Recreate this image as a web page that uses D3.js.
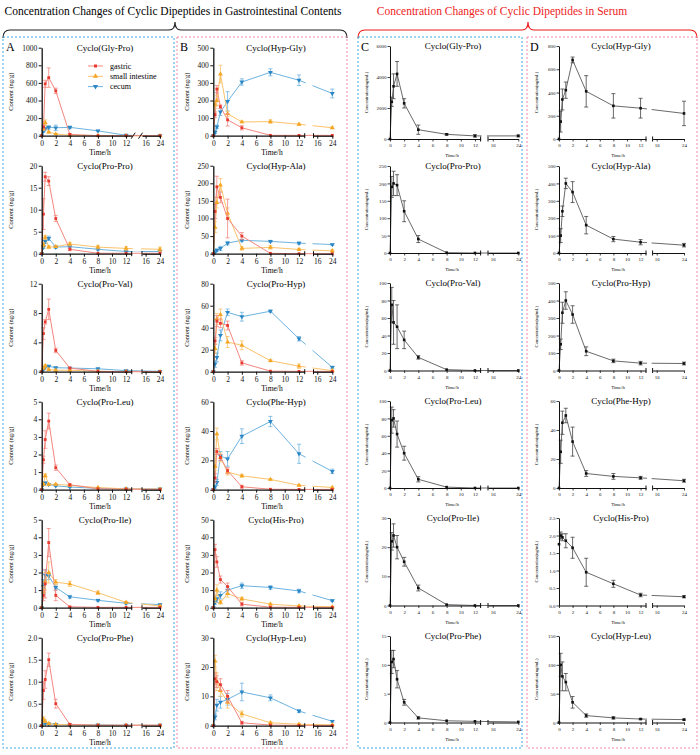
<!DOCTYPE html>
<html>
<head>
<meta charset="utf-8">
<script src="https://cdn.jsdelivr.net/npm/d3@7"></script>
<style>
  body { margin: 0; background: #fff; }
  svg { font-family: "Liberation Serif", "Times New Roman", serif; }
</style>
</head>
<body>
<div id="chart"></div>
<script>
// sampling times (h)
var times = [0, 0.25, 0.5, 1, 2, 4, 8, 12, 24];
var xTicksLeft = [0, 2, 4, 6, 8, 10, 12];
var xTicksRight = [16, 24];

// gastrointestinal contents, column A then B
var giPeptides = ["Cyclo(Gly-Pro)", "Cyclo(Pro-Pro)", "Cyclo(Pro-Val)", "Cyclo(Pro-Leu)", "Cyclo(Pro-Ile)", "Cyclo(Pro-Phe)",
                  "Cyclo(Hyp-Gly)", "Cyclo(Hyp-Ala)", "Cyclo(Pro-Hyp)", "Cyclo(Phe-Hyp)", "Cyclo(His-Pro)", "Cyclo(Hyp-Leu)"];
var giYMax = [1000, 20, 12, 5, 5, 2, 500, 250, 80, 60, 50, 30];
var giYStep = [200, 5, 4, 1, 1, 0.5, 100, 50, 20, 20, 10, 10];

var gastricMean = [
  [0, 100, 590, 660, 510, 15, 0, 0, 0],
  [0, 9, 17.5, 16.5, 8, 1, 0.1, 0.1, 0.1],
  [0, 5.2, 6.8, 8.5, 2.9, 0.5, 0.05, 0, 0],
  [0, 1.7, 2.85, 3.9, 1.25, 0.28, 0.05, 0.03, 0.02],
  [0, 0.7, 1.35, 3.7, 0.7, 0.05, 0.02, 0.02, 0.02],
  [0, 0.8, 1.05, 1.5, 0.5, 0.03, 0.01, 0.01, 0.01],
  [0, 120, 265, 165, 90, 45, 2, 2, 2],
  [0, 120, 190, 160, 100, 50, 1, 0, 0],
  [0, 28, 46, 44, 42, 8, 0.5, 0.3, 0.3],
  [0, 8, 26, 22, 13, 2, 0.3, 0.2, 0.2],
  [0, 33, 26, 16, 12, 2, 0.3, 0.2, 0.2],
  [0, 16, 15, 14, 10, 1, 0.2, 0.1, 0.1]
];
var gastricErr = [
  [0, 20, 40, 110, 30, 10, 0, 0, 0],
  [0, 3.5, 1, 1, 0.7, 0.3, 0, 0, 0],
  [0, 0.8, 0.3, 1.4, 0.3, 0.1, 0, 0, 0],
  [0, 0.2, 0.5, 0.45, 0.15, 0.05, 0, 0, 0],
  [0, 0.3, 0.8, 0.8, 0.3, 0.02, 0, 0, 0],
  [0, 0.2, 0.2, 0.15, 0.1, 0.01, 0, 0, 0],
  [0, 15, 20, 10, 35, 12, 0, 0, 0],
  [0, 20, 30, 15, 55, 10, 0, 0, 0],
  [0, 3, 5, 4, 4, 2, 0, 0, 0],
  [0, 3, 2, 2, 2, 1, 0, 0, 0],
  [0, 3, 3, 2, 2, 1, 0, 0, 0],
  [0, 2, 2, 2, 2, 0.5, 0, 0, 0]
];
var intestineMean = [
  [0, 80, 150, 40, 20, 5, 1, 0, 0],
  [0, 2, 3.7, 1.5, 1.6, 2.2, 1.5, 1.2, 1.0],
  [0, 0.5, 0.8, 0.3, 0.2, 0.2, 0.05, 0.02, 0],
  [0, 0.3, 0.8, 0.3, 0.3, 0.25, 0.12, 0.05, 0.03],
  [0, 0.9, 1.5, 2.0, 1.45, 1.35, 0.85, 0.3, 0.1],
  [0, 0.15, 0.1, 0.05, 0.03, 0.02, 0.01, 0.01, 0.01],
  [0, 175, 200, 350, 125, 78, 80, 65, 45],
  [0, 75, 145, 195, 115, 15, 18, 12, 8],
  [0, 21, 48, 52, 27, 24, 10, 5, 1],
  [0, 16, 38, 22, 12, 9.5, 7, 3, 1.5],
  [0, 5, 10, 3, 8, 5, 2, 1, 0.5],
  [0, 22, 15, 12, 8, 4, 1, 0.5, 0.3]
];
var intestineErr = [
  [0, 20, 30, 10, 5, 2, 0, 0, 0],
  [0, 0.5, 0.5, 0.3, 0.2, 0.4, 0.4, 0.4, 0.5],
  [0, 0.1, 0.15, 0.05, 0.05, 0.05, 0, 0, 0],
  [0, 0.05, 0.1, 0.05, 0.05, 0.05, 0.02, 0, 0],
  [0, 0.3, 0.5, 0.6, 0.15, 0.15, 0.1, 0.05, 0.02],
  [0, 0.05, 0.03, 0.02, 0, 0, 0, 0, 0],
  [0, 20, 30, 50, 15, 5, 10, 5, 5],
  [0, 15, 15, 18, 15, 5, 5, 3, 3],
  [0, 4, 5, 5, 5, 4, 1, 2, 0.5],
  [0, 3, 4, 3, 2, 1, 0.5, 0.5, 0.3],
  [0, 2, 3, 1, 2, 1, 0.5, 0.3, 0.2],
  [0, 2, 3, 2, 2, 1, 0.3, 0.2, 0.1]
];
var cecumMean = [
  [0, 50, 80, 95, 90, 95, 55, 5, 0],
  [0, 1.5, 2.8, 3.5, 1.5, 1.6, 1.0, 0.5, 0.5],
  [0, 0.3, 0.6, 0.75, 0.55, 0.5, 0.4, 0.15, 0.05],
  [0, 0.3, 0.38, 0.3, 0.22, 0.15, 0.08, 0.05, 0.04],
  [0, 1.2, 1.85, 1.8, 1.15, 0.62, 0.42, 0.25, 0.18],
  [0, 0.1, 0.05, 0.04, 0.03, 0.02, 0.02, 0.01, 0.01],
  [0, 20, 50, 135, 195, 305, 360, 315, 240],
  [0, 5, 10, 15, 30, 38, 35, 30, 26],
  [0, 7, 13, 33, 54, 50, 55, 30, 4],
  [0, 2, 5, 23, 21, 36.5, 46.5, 24.5, 12.5],
  [0, 3, 5, 7, 10, 12.5, 11.5, 9.5, 4],
  [0, 3, 7, 8, 9, 11.5, 9.5, 5, 1.5]
];
var cecumErr = [
  [0, 10, 15, 20, 30, 15, 8, 3, 0],
  [0, 0.3, 0.5, 0.5, 0.3, 0.3, 0.2, 0.1, 0.1],
  [0, 0.05, 0.1, 0.1, 0.05, 0.05, 0.05, 0.03, 0],
  [0, 0.05, 0.05, 0.03, 0.03, 0.02, 0.01, 0, 0],
  [0, 0.4, 0.3, 0.2, 0.15, 0.08, 0.06, 0.04, 0.03],
  [0, 0.03, 0.01, 0, 0, 0, 0, 0, 0],
  [0, 8, 10, 20, 55, 18, 20, 30, 25],
  [0, 2, 3, 6, 5, 3, 3, 3, 2],
  [0, 3, 4, 5, 3, 4, 1, 2, 1],
  [0, 1, 2, 3, 5, 5, 3.5, 6.5, 1.5],
  [0, 1, 2, 2, 2, 1.5, 1, 1, 0.5],
  [0, 1, 2, 2, 2, 3, 1, 0.5, 0.3]
];

// serum, column C then D
var serumPeptides = ["Cyclo(Gly-Pro)", "Cyclo(Pro-Pro)", "Cyclo(Pro-Val)", "Cyclo(Pro-Leu)", "Cyclo(Pro-Ile)", "Cyclo(Pro-Phe)",
                     "Cyclo(Hyp-Gly)", "Cyclo(Hyp-Ala)", "Cyclo(Pro-Hyp)", "Cyclo(Phe-Hyp)", "Cyclo(His-Pro)", "Cyclo(Hyp-Leu)"];
var serumYMax = [6000, 250, 100, 100, 30, 15, 800, 500, 500, 60, 2.5, 150];
var serumYStep = [2000, 50, 20, 20, 10, 5, 200, 100, 100, 20, 0.5, 50];
var serumMean = [
  [0, 2400, 3400, 4200, 2300, 600, 300, 200, 200],
  [0, 190, 200, 195, 120, 40, 1, 0, 0],
  [0, 75, 55, 50, 35, 15, 1, 0, 0],
  [0, 78, 80, 62, 40, 10, 1, 0, 0],
  [0, 22, 24, 20, 15, 6, 0.3, 0, 0],
  [0, 10.5, 11, 7.5, 3.5, 0.8, 0.3, 0.2, 0.1],
  [0, 150, 340, 420, 680, 410, 285, 265, 220],
  [0, 100, 240, 400, 350, 160, 80, 62, 45],
  [0, 150, 330, 400, 320, 110, 55, 42, 40],
  [0, 25, 45, 50, 32, 10, 8, 7, 5],
  [1.75, 2.0, 1.95, 1.85, 1.65, 0.95, 0.62, 0.3, 0.25],
  [0, 100, 80, 70, 35, 12, 8, 6, 5]
];
var serumErr = [
  [0, 300, 800, 800, 300, 300, 50, 80, 60],
  [0, 30, 35, 30, 30, 10, 0, 0, 0],
  [0, 20, 25, 25, 10, 2, 0, 0, 0],
  [0, 15, 10, 15, 8, 3, 0, 0, 0],
  [0, 3, 4, 4, 1.5, 1, 0, 0, 0],
  [0, 2, 1.5, 1.5, 0.5, 0.2, 0, 0, 0],
  [0, 90, 90, 70, 25, 135, 105, 85, 105],
  [0, 40, 30, 30, 60, 50, 15, 15, 10],
  [0, 30, 60, 50, 50, 25, 10, 10, 8],
  [0, 8, 8, 5, 10, 2, 2, 1, 1],
  [0, 0.1, 0.1, 0.2, 0.3, 0.4, 0.1, 0.05, 0.03],
  [0, 20, 25, 15, 10, 3, 2, 1, 1]
];

var legendNames = ["gastric", "small intestine", "cecum"];

var width = 700, height = 755;

var svg = d3.select("#chart").append("svg")
    .attr("width", width)
    .attr("height", height);

// headers + braces
svg.append("text").attr("x", 173).attr("y", 15).attr("text-anchor", "middle")
    .style("font-size", "11.5px").text("Concentration Changes of Cyclic Dipeptides in Gastrointestinal Contents");
svg.append("text").attr("x", 502).attr("y", 15).attr("text-anchor", "middle")
    .style("font-size", "11.5px").attr("fill", "#ee1c1c").text("Concentration Changes of Cyclic Dipeptides in Serum");

function brace(x1, xm, x2, color) {
  svg.append("path")
    .attr("d", "M" + x1 + ",38 Q" + x1 + ",30 " + (x1 + 7) + ",30 L" + (xm - 6) + ",30 Q" + xm + ",30 " + xm + ",22 Q" + xm + ",30 " + (xm + 6) + ",30 L" + (x2 - 7) + ",30 Q" + x2 + ",30 " + x2 + ",38")
    .attr("fill", "none").attr("stroke", color).attr("stroke-width", 1.2);
}
brace(3, 175, 347, "#222");
brace(358, 528, 697, "#ee1c1c");

// dashed frames
var frames = [[3, 174, "#3aa9e0", "A"], [177, 347, "#ef8aa3", "B"], [358, 522, "#3aa9e0", "C"], [527, 697, "#ef8aa3", "D"]];
frames.forEach(function(f) {
  svg.append("rect").attr("x", f[0]).attr("y", 37).attr("width", f[1] - f[0]).attr("height", 711)
    .attr("fill", "none").attr("stroke", f[2]).attr("stroke-width", 1).attr("stroke-dasharray", "2,2");
  svg.append("text").attr("x", f[0] + 3).attr("y", 51).style("font-size", "12px").text(f[3]);
});

var columns = {
  A: {x0: 41.7, s1End: 131.7, s2Dom: 14, s2Start: 142, s2End: 160, yLab: 13, titleX: 105, timeX: 100, small: false},
  B: {x0: 213.3, s1End: 304.7, s2Dom: 14, s2Start: 313.5, s2End: 332.3, yLab: 189, titleX: 276, timeX: 272, small: false},
  C: {x0: 390, s1End: 480.6, s2Dom: 14.5, s2Start: 488, s2End: 518.3, yLab: 368, titleX: 453, timeX: 452, small: true},
  D: {x0: 559, s1End: 646, s2Dom: 14.8, s2Start: 652.6, s2End: 684, yLab: 538, titleX: 621, timeX: 618, small: true}
};
var giZero = [135.7, 253.7, 371.7, 489.7, 607.7, 725.7];
var serumZero = [139, 253, 370.5, 488, 605.5, 722.5];
var serumTop = [46, 166, 283, 401, 518, 636];

var giStyles = [
  {name: "cecum", marker: "#2b86c5", line: "#6db3df", shape: "down"},
  {name: "small intestine", marker: "#f5a623", line: "#fbc36c", shape: "up"},
  {name: "gastric", marker: "#e83a2f", line: "#f3877f", shape: "square"}
];

function drawMarker(g, shape, x, y, color, s) {
  if (shape === "square") {
    g.append("rect").attr("x", x - s / 2).attr("y", y - s / 2).attr("width", s).attr("height", s).attr("fill", color);
  } else {
    var sym = d3.symbol().type(d3.symbolTriangle).size(s * s * 1.3);
    g.append("path").attr("d", sym())
      .attr("transform", "translate(" + x + "," + y + ")" + (shape === "down" ? " rotate(180)" : ""))
      .attr("fill", color);
  }
}

function drawPanel(col, zeroY, topY, yMax, yStep, title, series, opts) {
  var c = columns[col];
  var g = svg.append("g");
  var s1 = d3.scaleLinear().domain([0, 12.8]).range([c.x0, c.s1End]);
  var s2 = d3.scaleLinear().domain([c.s2Dom, 24]).range([c.s2Start, c.s2End]);
  var xs = function(t) { return t <= 13 ? s1(t) : s2(t); };
  var y = d3.scaleLinear().domain([0, yMax]).range([zeroY, topY]);
  var tickFont = c.small ? 5 : 7.5;
  var fmt = yStep < 1 ? d3.format(".1f") : d3.format("d");

  // lines
  series.forEach(function(s) {
    var pts = times.map(function(t, i) { return [xs(t), y(s.mean[i])]; });
    g.append("path").attr("d", d3.line()(pts))
      .attr("fill", "none").attr("stroke", s.line).attr("stroke-width", c.small ? 0.8 : 1);
  });

  // blank the axis gap
  g.append("rect").attr("x", c.s1End + 1).attr("y", topY - 6)
    .attr("width", c.s2Start - c.s1End - 2).attr("height", zeroY - topY + 4).attr("fill", "#fff");

  // error bars + markers
  series.forEach(function(s) {
    times.forEach(function(t, i) {
      var e = s.err[i], m = s.mean[i], x = xs(t);
      if (e > 0) {
        var lo = y(Math.max(0, m - e)), hi = y(m + e);
        var cap = 2;
        g.append("line").attr("x1", x).attr("x2", x).attr("y1", lo).attr("y2", hi)
          .attr("stroke", s.line).attr("stroke-width", 0.8);
        g.append("line").attr("x1", x - cap).attr("x2", x + cap).attr("y1", hi).attr("y2", hi)
          .attr("stroke", s.line).attr("stroke-width", 0.8);
        g.append("line").attr("x1", x - cap).attr("x2", x + cap).attr("y1", lo).attr("y2", lo)
          .attr("stroke", s.line).attr("stroke-width", 0.8);
      }
      drawMarker(g, s.shape, x, y(m), s.marker, c.small ? 2.6 : 2.8);
    });
  });

  // y axis
  var yAxis = g.append("g").attr("transform", "translate(" + c.x0 + ",0)")
    .call(d3.axisLeft(y).tickValues(d3.range(0, yMax + yStep / 2, yStep)).tickFormat(fmt).tickSize(c.small ? 2.5 : 3).tickSizeOuter(0));
  // x axis, two pieces
  var xa1 = g.append("g").attr("transform", "translate(0," + zeroY + ")")
    .call(d3.axisBottom(s1).tickValues(xTicksLeft).tickSize(c.small ? 2.5 : 3).tickSizeOuter(0));
  var xa2 = g.append("g").attr("transform", "translate(0," + zeroY + ")")
    .call(d3.axisBottom(s2).tickValues(xTicksRight).tickSize(c.small ? 2.5 : 3).tickSizeOuter(0));
  [yAxis, xa1, xa2].forEach(function(a) {
    a.select(".domain").attr("stroke", "#111").attr("stroke-width", c.small ? 1 : 1.3);
    a.selectAll(".tick line").attr("stroke", "#111").attr("stroke-width", c.small ? 0.8 : 1);
    a.selectAll(".tick text").style("font-size", tickFont + "px")
      .style("font-family", "Liberation Serif, serif").attr("fill", "#111");
  });
  yAxis.selectAll(".tick text").attr("x", c.small ? -3.5 : -4.5);
  xa1.selectAll(".tick text").attr("y", c.small ? 4.5 : 5);
  xa2.selectAll(".tick text").attr("y", c.small ? 4.5 : 5);

  // break marks
  if (opts.slant) {
    [c.s1End + 1.5, c.s2Start - 1.5].forEach(function(bx) {
      g.append("line").attr("x1", bx - 2).attr("x2", bx + 2).attr("y1", zeroY + 3).attr("y2", zeroY - 3)
        .attr("stroke", "#111").attr("stroke-width", 1);
    });
  } else {
    [c.s1End, c.s2Start].forEach(function(bx) {
      g.append("line").attr("x1", bx).attr("x2", bx).attr("y1", zeroY - 2.5).attr("y2", zeroY + 2.5)
        .attr("stroke", "#111").attr("stroke-width", 1);
    });
  }

  // labels
  g.append("text").attr("x", c.titleX).attr("y", topY + 3.2).attr("text-anchor", "middle")
    .style("font-size", "9px").text(title);
  g.append("text").attr("x", c.timeX).attr("y", zeroY + (c.small ? 18 : 19.5)).attr("text-anchor", "middle")
    .style("font-size", c.small ? "4.8px" : "7.5px").text("Time/h");
  g.append("text")
    .attr("transform", "translate(" + c.yLab + "," + ((zeroY + topY) / 2) + ") rotate(-90)")
    .attr("text-anchor", "middle")
    .style("font-size", c.small ? "4.6px" : "6.5px")
    .text(c.small ? "Concentration(ng/mL)" : "Content (ng/g)");
}

giPeptides.forEach(function(name, k) {
  var col = k < 6 ? "A" : "B";
  var row = k % 6;
  var zeroY = giZero[row];
  var series = [
    Object.assign({mean: cecumMean[k], err: cecumErr[k]}, giStyles[0]),
    Object.assign({mean: intestineMean[k], err: intestineErr[k]}, giStyles[1]),
    Object.assign({mean: gastricMean[k], err: gastricErr[k]}, giStyles[2])
  ];
  drawPanel(col, zeroY, zeroY - 88, giYMax[k], giYStep[k], name, series, {slant: k === 0});
});

serumPeptides.forEach(function(name, k) {
  var col = k < 6 ? "C" : "D";
  var row = k % 6;
  var series = [{mean: serumMean[k], err: serumErr[k], marker: "#111", line: "#444", shape: "square"}];
  drawPanel(col, serumZero[row], serumTop[row], serumYMax[k], serumYStep[k], name, series, {slant: false});
});

// legend in first panel
var legend = svg.append("g");
var legendOrder = [giStyles[2], giStyles[1], giStyles[0]];
legendOrder.forEach(function(s, i) {
  var ly = 66 + i * 10.3;
  legend.append("line").attr("x1", 88).attr("x2", 103).attr("y1", ly).attr("y2", ly)
    .attr("stroke", s.line).attr("stroke-width", 1);
  drawMarker(legend, s.shape, 95.5, ly, s.marker, 3);
  legend.append("text").attr("x", 110).attr("y", ly + 2.6).style("font-size", "8px").text(legendNames[i]);
});
</script>
</body>
</html>
